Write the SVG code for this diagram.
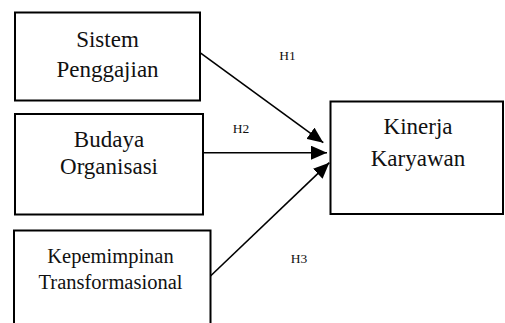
<svg xmlns="http://www.w3.org/2000/svg" width="505" height="323" viewBox="0 0 505 323">
<style>
.box{fill:#fff;stroke:#000;stroke-width:2}
text{font-family:'Liberation Serif','Times New Roman','DejaVu Serif',serif;fill:#111;text-anchor:middle}
.big{font-size:23px}
.mid{font-size:20.5px}
.lab{font-size:13.5px}
.ln{stroke:#000;stroke-width:1.6;fill:none;marker-end:url(#ah)}
</style>
<defs>
<marker id="ah" markerUnits="userSpaceOnUse" markerWidth="17" markerHeight="14" refX="16" refY="7" orient="auto" viewBox="0 0 17 14">
<path d="M0,0 L16,7 L0,14 z" fill="#000"/>
</marker>
</defs>
<rect width="505" height="323" fill="#fff"/>
<g id="node-sistem" font-family="Liberation Serif, serif">
<rect class="box" x="15" y="12.5" width="185" height="88"/>
<text class="big" x="107.5" y="47">Sistem</text>
<text class="big" x="107.5" y="77">Penggajian</text>
</g>
<g id="node-budaya" font-family="Liberation Serif, serif">
<rect class="box" x="15" y="114" width="188" height="100.5"/>
<text class="big" x="109" y="146.5">Budaya</text>
<text class="big" x="109" y="174">Organisasi</text>
</g>
<g id="node-kepemimpinan" font-family="Liberation Serif, serif">
<rect class="box" x="14" y="230.5" width="196.5" height="105"/>
<text class="mid" x="110.5" y="262.5">Kepemimpinan</text>
<text class="mid" x="110.5" y="289">Transformasional</text>
</g>
<g id="node-kinerja" font-family="Liberation Serif, serif">
<rect class="box" x="330.5" y="101.5" width="172.5" height="112.5"/>
<text class="big" x="418" y="134">Kinerja</text>
<text class="big" x="418" y="166">Karyawan</text>
</g>
<g id="connectors" font-family="Liberation Serif, serif">
<line class="ln" x1="200" y1="52.7" x2="323.3" y2="142.7"/>
<line class="ln" x1="204" y1="152.7" x2="327" y2="152.7"/>
<line class="ln" x1="210.5" y1="276" x2="329.3" y2="162.7"/>
<text class="lab" x="287.5" y="60">H1</text>
<text class="lab" x="241" y="132.7">H2</text>
<text class="lab" x="299" y="262.7">H3</text>
</g>
</svg>
